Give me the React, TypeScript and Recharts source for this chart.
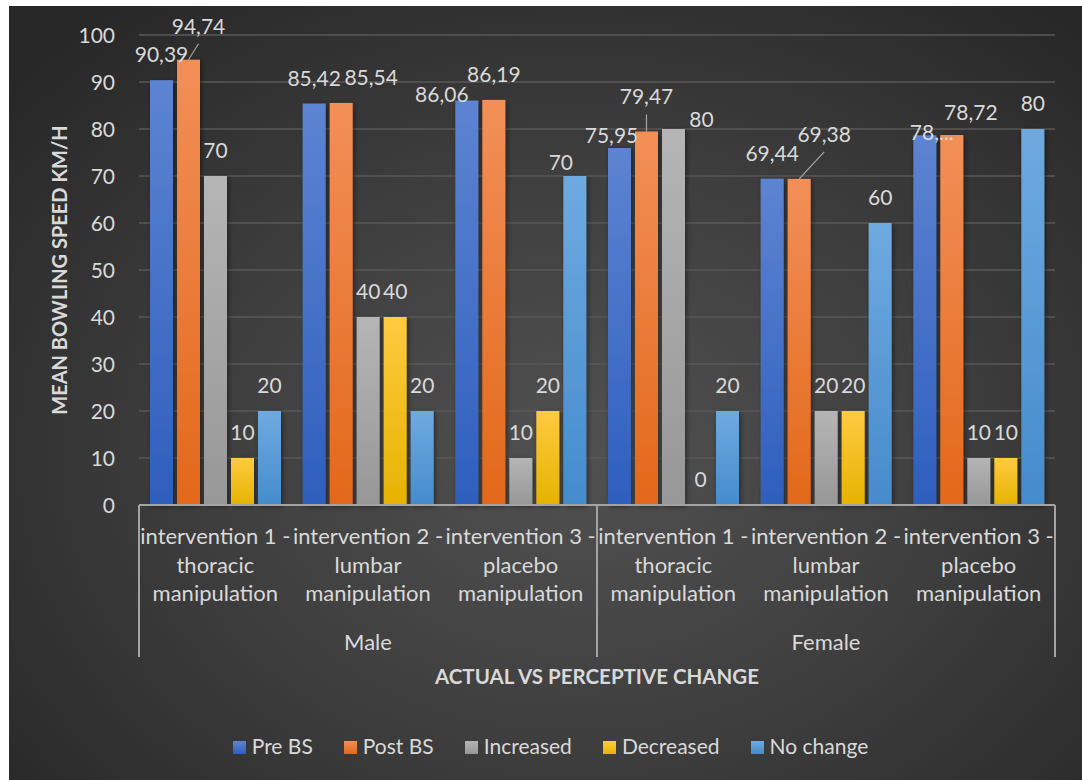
import React from 'react';
import { BarChart, Bar, XAxis, YAxis, CartesianGrid, LabelList, Legend } from 'recharts';

// ---- data ----
const groups = ['Male', 'Male', 'Male', 'Female', 'Female', 'Female'];
const interventions = [
  'intervention 1 - thoracic manipulation',
  'intervention 2 - lumbar manipulation',
  'intervention 3 - placebo manipulation',
  'intervention 1 - thoracic manipulation',
  'intervention 2 - lumbar manipulation',
  'intervention 3 - placebo manipulation',
];
const preBS = [90.39, 85.42, 86.06, 75.95, 69.44, 78.66];
const postBS = [94.74, 85.54, 86.19, 79.47, 69.38, 78.72];
const increased = [70, 40, 10, 80, 20, 10];
const decreased = [10, 40, 20, 0, 20, 10];
const noChange = [20, 20, 70, 20, 60, 80];
const yTicks = [0, 10, 20, 30, 40, 50, 60, 70, 80, 90, 100];

const yTitle = 'MEAN BOWLING SPEED KM/H';
const xTitle = 'ACTUAL VS PERCEPTIVE CHANGE';

// ---- look ----
const W = 1073;
const H = 774;
const MARGIN = { top: 29, right: 27, bottom: 125, left: 0 };
const Y_AXIS_W = 130;
const X_AXIS_H = 150;
const PLOT_BOTTOM = H - MARGIN.bottom - X_AXIS_H;
const PLOT_W = W - MARGIN.left - MARGIN.right - Y_AXIS_W;
const TEXT = '#d9d9d9';
const FONT = 'Lato, "Open Sans", sans-serif';

const series = [
  { key: 'pre', name: 'Pre BS', values: preBS, top: '#5d84d2', bottom: '#2e5ebd' },
  { key: 'post', name: 'Post BS', values: postBS, top: '#f28f58', bottom: '#e3681a' },
  { key: 'inc', name: 'Increased', values: increased, top: '#b5b5b5', bottom: '#979797' },
  { key: 'dec', name: 'Decreased', values: decreased, top: '#ffca40', bottom: '#e5b300' },
  { key: 'none', name: 'No change', values: noChange, top: '#6eaae0', bottom: '#458bcc' },
];

// hand-placed label nudges [dx, dy] where labels would collide
const labelNudges: number[][][] = [
  [[0, 0], [0, 0], [-25, 19], [-8, 13], [0, 0], [7, 23]],
  [[10, -8], [30, 0], [0, 0], [0, -9], [25, -19], [19, 3]],
  [[0, 0], [0, 0], [0, 0], [28, 16], [0, 0], [0, 0]],
  [[0, 0], [0, 0], [0, 0], [0, 0], [0, 0], [0, 0]],
  [[0, 0], [0, 0], [-14, 12], [0, 0], [0, 0], [0, 0]],
];
// label texts clipped by the chart
const labelClips: Record<string, string> = { '0-5': '78,...' };

const rows = interventions.map((name, i) => {
  const row: Record<string, string | number> = { category: name, group: groups[i] };
  series.forEach((s) => {
    row[s.key] = s.values[i];
  });
  return row;
});

const fmt = (v: number) => String(v).replace('.', ',');

const splitCategory = (name: string) => {
  const [head, rest] = name.split(' - ');
  return [head + ' -', ...rest.split(' ')];
};

const YTick = (props: any) => {
  const { y, payload } = props;
  return (
    <text x={106} y={y + 7.5} textAnchor="end" fill={TEXT} fontSize={21} fontFamily={FONT}>
      {payload.value}
    </text>
  );
};

const CategoryTick = (props: any) => {
  const { x, index, payload } = props;
  const lines = splitCategory(String(payload.value));
  const half = PLOT_W / rows.length / 2;
  const lineY = [PLOT_BOTTOM + 39, PLOT_BOTTOM + 68, PLOT_BOTTOM + 96];
  const sepStyle = { stroke: '#a3a3a3', strokeWidth: 2 };
  return (
    <g>
      {lines.map((t, k) => (
        <text key={k} x={x} y={lineY[k]} textAnchor="middle" fill={TEXT} fontSize={22} fontFamily={FONT}>
          {t}
        </text>
      ))}
      {index % 3 === 1 && (
        <text x={x} y={PLOT_BOTTOM + 145} textAnchor="middle" fill={TEXT} fontSize={22} fontFamily={FONT}>
          {rows[index].group}
        </text>
      )}
      {index % 3 === 0 && (
        <line x1={x - half} x2={x - half} y1={PLOT_BOTTOM} y2={PLOT_BOTTOM + 152} {...sepStyle} />
      )}
      {index === rows.length - 1 && (
        <line x1={x + half} x2={x + half} y1={PLOT_BOTTOM} y2={PLOT_BOTTOM + 152} {...sepStyle} />
      )}
    </g>
  );
};

const makeLabel = (si: number) => (props: any) => {
  const { x, y, width, value, index } = props;
  const [dx, dy] = labelNudges[si][index];
  const cx = x + width / 2;
  const tx = cx + dx;
  const ty = y - 18 + dy;
  const text = labelClips[`${si}-${index}`] ?? fmt(Number(value));
  return (
    <g>
      {dy <= -8 && (
        <line x1={cx} y1={y} x2={tx} y2={ty + 10} stroke="#a6a6a6" strokeWidth={1.2} />
      )}
      <text x={tx} y={ty} textAnchor="middle" fill={TEXT} fontSize={21} fontFamily={FONT}>
        {text}
      </text>
    </g>
  );
};

const ShadowBar = (props: any) => {
  const { x, y, width, height, fill } = props;
  if (!height || height <= 0) return null;
  return <rect x={x} y={y} width={width} height={height} fill={fill} filter="url(#barShadow)" />;
};

const LegendBox = () => (
  <div
    style={{
      display: 'flex',
      justifyContent: 'center',
      alignItems: 'baseline',
      paddingLeft: 10,
      fontFamily: FONT,
      fontSize: 21,
      lineHeight: '28px',
      color: TEXT,
    }}
  >
    {series.map((s) => (
      <div key={s.key} style={{ display: 'flex', alignItems: 'center', margin: '0 15.5px' }}>
        <span
          style={{
            display: 'inline-block',
            width: 13,
            height: 13,
            marginRight: 6,
            marginTop: 2,
            background: `linear-gradient(${s.top}, ${s.bottom})`,
          }}
        />
        <span>{s.name}</span>
      </div>
    ))}
  </div>
);

export default function App() {
  return (
    <div
      style={{
        position: 'absolute',
        left: 9,
        top: 6,
        width: W,
        height: H,
        overflow: 'hidden',
        background:
          'radial-gradient(ellipse 70% 75% at 53% 58%, #515151 0%, #404040 45%, #272727 100%)',
      }}
    >
      <BarChart
        width={W}
        height={H}
        data={rows}
        margin={MARGIN}
        barSize={23}
        barGap={4}
      >
        <defs>
          {series.map((s) => (
            <linearGradient key={s.key} id={`grad-${s.key}`} x1="0" y1="0" x2="0" y2="1">
              <stop offset="0%" stopColor={s.top} />
              <stop offset="100%" stopColor={s.bottom} />
            </linearGradient>
          ))}
          <filter id="barShadow" x="-40%" y="-10%" width="180%" height="125%">
            <feDropShadow dx="1.5" dy="1.5" stdDeviation="2.5" floodColor="#000" floodOpacity="0.45" />
          </filter>
        </defs>
        <CartesianGrid vertical={false} stroke="#585858" strokeWidth={1.5} />
        <YAxis
          width={Y_AXIS_W}
          domain={[0, 100]}
          ticks={yTicks}
          interval={0}
          axisLine={false}
          tickLine={false}
          tick={<YTick />}
          label={({ viewBox }: any) => (
            <text
              x={50}
              y={viewBox.y + viewBox.height / 2}
              transform={`rotate(-90 50 ${viewBox.y + viewBox.height / 2})`}
              textAnchor="middle"
              dominantBaseline="central"
              fill={TEXT}
              fontSize={20}
              fontWeight={700}
              fontFamily={FONT}
            >
              {yTitle}
            </text>
          )}
        />
        <XAxis
          dataKey="category"
          height={X_AXIS_H}
          interval={0}
          tickLine={false}
          axisLine={{ stroke: '#a3a3a3', strokeWidth: 2 }}
          tick={<CategoryTick />}
          label={({ viewBox }: any) => (
            <text
              x={viewBox.x + viewBox.width / 2}
              y={PLOT_BOTTOM + 179}
              textAnchor="middle"
              fill={TEXT}
              fontSize={20.5}
              fontWeight={700}
              fontFamily={FONT}
            >
              {xTitle}
            </text>
          )}
        />
        <Legend
          layout="horizontal"
          verticalAlign="middle"
          align="center"
          wrapperStyle={{ position: 'absolute', top: 726, left: 0, width: W, height: 28 }}
          content={<LegendBox />}
        />
        {series.map((s, si) => (
          <Bar
            key={s.key}
            dataKey={s.key}
            name={s.name}
            fill={`url(#grad-${s.key})`}
            shape={<ShadowBar />}
            isAnimationActive={false}
          >
            <LabelList dataKey={s.key} content={makeLabel(si)} />
          </Bar>
        ))}
      </BarChart>
    </div>
  );
}
